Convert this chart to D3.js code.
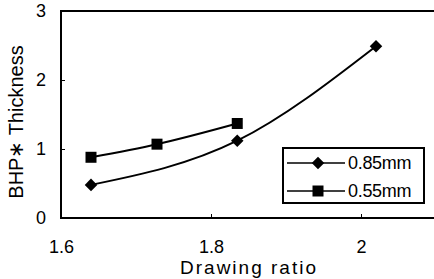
<!doctype html>
<html lang="en">
<head>
    <title></title>
    <script src="https://d3js.org/d3.v7.min.js"></script>
    <style type="text/css">
        body { margin: 0; background: #fff; }
        text { font-family: "Liberation Sans", Arial, sans-serif; fill: #000; }
    </style>
</head>

<body>
</body>

<script type="text/javascript">

    var width  = 434;
    var height = 279;

    var seriesNames = ["0.85mm", "0.55mm"];
    var ratio085 = [1.64, 1.835, 2.02];
    var thick085 = [0.48, 1.12, 2.49];
    var ratio055 = [1.64, 1.728, 1.835];
    var thick055 = [0.88, 1.07, 1.37];
    var xTicks = [1.6, 1.8, 2];
    var yTicks = [0, 1, 2, 3];

    var margin = {left: 61, right: 0, top: 11, bottom: 61};

    var x = d3.scaleLinear()
              .domain([1.6, 2.1])
              .range([margin.left, margin.left + 375]);

    var y = d3.scaleLinear()
              .domain([0, 3])
              .range([height - margin.bottom, margin.top]);

    var svg = d3.select("body")
        .append("svg")
        .attr("width", width)
        .attr("height", height);

    // frame
    svg.append("path")
       .attr("d", "M" + x(2.1) + "," + y(3) + "H" + x(1.6) + "V" + y(0) + "H" + x(2.1))
       .attr("fill", "none")
       .attr("stroke", "#000")
       .attr("stroke-width", 2);

    var xAxis = d3.axisBottom(x).tickValues(xTicks).tickSize(-4).tickPadding(22)
                  .tickFormat(d3.format("~g"));
    svg.append("g")
       .attr("transform", "translate(0," + y(0) + ")")
       .call(xAxis)
       .call(g => g.select(".domain").remove())
       .call(g => g.selectAll("text").attr("font-size", 18).attr("font-family", null));

    var yAxis = d3.axisLeft(y).tickValues(yTicks).tickSize(-4).tickPadding(15)
                  .tickFormat(d3.format("~g"));
    svg.append("g")
       .attr("transform", "translate(" + x(1.6) + ",0)")
       .call(yAxis)
       .call(g => g.select(".domain").remove())
       .call(g => g.selectAll("text").attr("font-size", 18).attr("font-family", null));

    svg.append("text")
       .attr("x", 249)
       .attr("y", 274)
       .attr("text-anchor", "middle")
       .attr("font-size", 19)
       .attr("letter-spacing", 2)
       .text("Drawing ratio");

    svg.append("text")
       .attr("transform", "translate(23,122) rotate(-90)")
       .attr("text-anchor", "middle")
       .attr("font-size", 20)
       .text("BHP\u2217 Thickness");

    var line = d3.line()
                 .x(d => x(d[0]))
                 .y(d => y(d[1]))
                 .curve(d3.curveMonotoneX);

    var data085 = ratio085.map((r, i) => [r, thick085[i]]);
    var data055 = ratio055.map((r, i) => [r, thick055[i]]);

    svg.append("path").attr("d", line(data085))
       .attr("fill", "none").attr("stroke", "#000").attr("stroke-width", 2);
    svg.append("path").attr("d", line(data055))
       .attr("fill", "none").attr("stroke", "#000").attr("stroke-width", 2);

    var diamond = d3.symbol().type(d3.symbolDiamond2).size(100);
    var square = d3.symbol().type(d3.symbolSquare).size(121);

    svg.selectAll(".dia")
       .data(data085)
       .enter()
       .append("path")
       .attr("transform", d => "translate(" + x(d[0]) + "," + y(d[1]) + ")")
       .attr("d", diamond);

    svg.selectAll(".sq")
       .data(data055)
       .enter()
       .append("path")
       .attr("transform", d => "translate(" + x(d[0]) + "," + y(d[1]) + ")")
       .attr("d", square);

    // legend
    var lg = svg.append("g").attr("transform", "translate(283,148)");
    lg.append("rect")
      .attr("width", 141).attr("height", 55)
      .attr("fill", "#fff").attr("stroke", "#000").attr("stroke-width", 2);

    var symbols = [diamond, square];
    seriesNames.forEach((name, i) => {
        var cy = 15 + i * 28;
        lg.append("line")
          .attr("x1", 4).attr("x2", 62).attr("y1", cy).attr("y2", cy)
          .attr("stroke", "#000").attr("stroke-width", 1.5);
        lg.append("path")
          .attr("transform", "translate(35," + cy + ")")
          .attr("d", symbols[i]);
        lg.append("text")
          .attr("x", 65).attr("y", cy + 6)
          .attr("font-size", 18)
          .attr("letter-spacing", -0.3)
          .text(name);
    });

</script>

</html>
